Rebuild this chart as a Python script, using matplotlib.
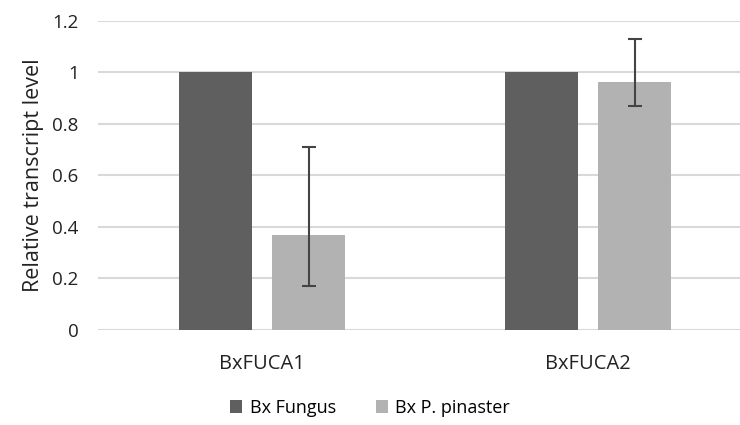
import numpy as np
import matplotlib.pyplot as plt

# relative transcript levels
genes = ['BxFUCA1', 'BxFUCA2']
fungus = [1.0, 1.0]
pinaster = [0.368, 0.961]
pinaster_err_low = [0.196, 0.093]
pinaster_err_high = [0.343, 0.169]

plt.rcParams['font.family'] = ['Open Sans', 'DejaVu Sans']

fig = plt.figure(figsize=(7.4, 4.25), dpi=100)
ax = fig.add_axes([98 / 740, 1 - 330 / 425, 1 - 98 / 740, 309.3 / 425])

x = np.arange(len(genes))
w = 0.224
off = 0.143
ax.bar(x - off, fungus, w, color='#5f5f5f', label='Bx Fungus', zorder=3)
ax.bar(x + off, pinaster, w, color='#b2b2b2', label='Bx P. pinaster', zorder=3)
ax.errorbar(x + off, pinaster, yerr=[pinaster_err_low, pinaster_err_high],
            fmt='none', ecolor='#444444', elinewidth=1.5, capsize=5, capthick=1.5, zorder=4)

ax.set_xlim(-0.503, 1.466)
ax.set_ylim(0, 1.2)
ax.set_yticks(np.arange(0, 1.21, 0.2))
ax.set_yticklabels(['0', '0.2', '0.4', '0.6', '0.8', '1', '1.2'])
ax.set_xticks(x)
ax.set_xticklabels(genes)
ax.yaxis.grid(True, color='#d9d9d9', linewidth=1.5, zorder=0)
ax.set_axisbelow(True)
for s in ax.spines.values():
    s.set_visible(False)
ax.tick_params(axis='both', length=0, colors='#222222')
ax.tick_params(axis='y', pad=14, labelsize=13.5)
ax.tick_params(axis='x', pad=17, labelsize=14.5)
ax.set_ylabel('Relative transcript level', fontsize=15.5, color='#222222', labelpad=6)

fig.legend(loc='center', bbox_to_anchor=(0.5, 1 - 408 / 425), ncol=2, frameon=False,
           fontsize=13, handlelength=0.7, handleheight=0.7, handletextpad=0.4,
           columnspacing=2.2)

plt.savefig('out.png', dpi=100)
